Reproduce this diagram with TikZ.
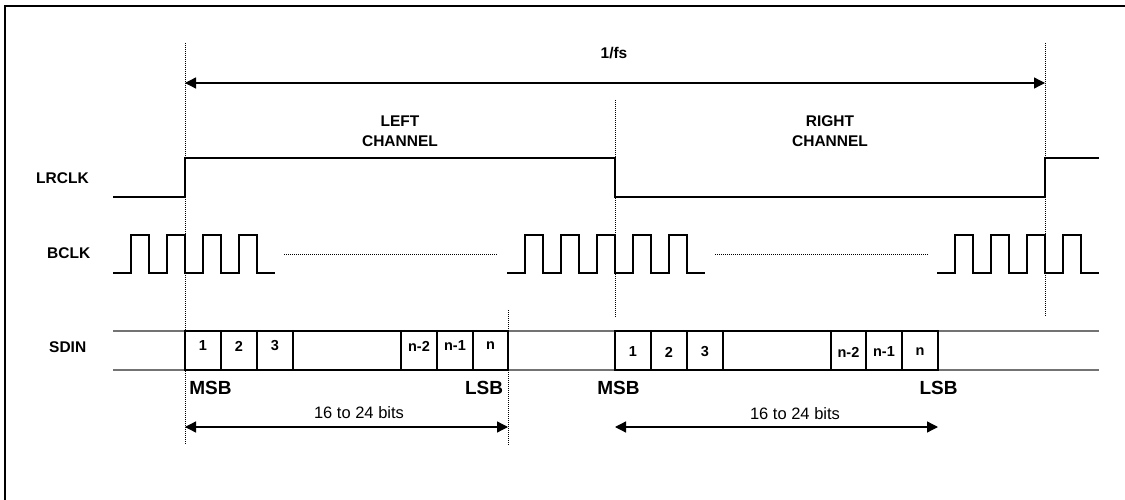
\documentclass[tikz,border=0pt]{standalone}
\usepackage{fontspec}
\setmainfont{Liberation Sans}
\usetikzlibrary{arrows.meta}
\begin{document}
\begin{tikzpicture}[x=1pt,y=-1pt,
  sig/.style={line width=1.7pt,black},
  guide/.style={line width=1pt,densely dotted,black},
  rail/.style={line width=1.3pt,black!55},
  bitbox/.style={draw=black,line width=1.3pt,fill=white},
  lbl/.style={font=\fontsize{15.5}{20}\selectfont\bfseries,inner sep=0pt},
  bitlbl/.style={font=\fontsize{14.5}{16}\selectfont\bfseries,inner sep=0pt},
  sblbl/.style={font=\fontsize{19}{22}\selectfont\bfseries,inner sep=0pt},
  dimlbl/.style={font=\fontsize{16.5}{19}\selectfont,inner sep=0pt},
  dimarrow/.style={line width=1.3pt,{Triangle[length=11pt,width=11pt]}-{Triangle[length=11pt,width=11pt]}},
]
\useasboundingbox (0,0) rectangle (1125,500);
% frame
\draw[line width=1.4pt] (1125,6) -- (5,6) -- (5,500);

% guide lines
\draw[guide] (185,43) -- (185,445);
\draw[guide] (615,100) -- (615,317);
\draw[guide] (1045,43) -- (1045,317);
\draw[guide] (508,310) -- (508,445);

% 1/fs
\coordinate (fsL) at (185,83);
\coordinate (fsR) at (1045,83);
\draw[dimarrow] (fsL) -- (fsR);
\node[lbl] (fs) at (614,53) {1/fs};

% channel labels
\node[lbl,align=center] (lch) at (400,131) {LEFT\\CHANNEL};
\node[lbl,align=center] (rch) at (830,131) {RIGHT\\CHANNEL};

% signal names
\node[lbl,anchor=west] (lrclk) at (36,178.5) {LRCLK};
\node[lbl,anchor=west] (bclk) at (47,253) {BCLK};
\node[lbl,anchor=west] (sdin) at (49,347) {SDIN};

% LRCLK
\draw[sig] (113,197) -- (185,197) -- (185,158) -- (615,158) -- (615,197) -- (1045,197) -- (1045,158) -- (1099,158);

% BCLK
\draw[sig] (113,273) \foreach \i in {1,...,4}{ -- ++(18,0) -- ++(0,-38) -- ++(18,0) -- ++(0,38)} -- ++(18,0);
\draw[sig] (507,273) \foreach \i in {1,...,5}{ -- ++(18,0) -- ++(0,-38) -- ++(18,0) -- ++(0,38)} -- ++(18,0);
\draw[sig] (937,273) \foreach \i in {1,...,4}{ -- ++(18,0) -- ++(0,-38) -- ++(18,0) -- ++(0,38)} -- ++(18,0);
\draw[guide] (284,254) -- (498,254);
\draw[guide] (715,254) -- (928,254);

% SDIN rails
\draw[rail] (113,331) -- (1099,331);
\draw[rail] (113,370) -- (1099,370);

% left word
\foreach \a/\b/\t [count=\k] in {185/221/1,221/257/2,257/293/3,293/401/,401/437/n-2,437/473/n-1,473/508/n}{
  \draw[bitbox] (\a,331) rectangle (\b,370);
  \node[bitlbl] (lb\k) at ({(\a+\b)/2},346) {\t};
}
% right word
\foreach \a/\b/\t [count=\k] in {615/651/1,651/687/2,687/723/3,723/831/,831/866/n-2,866/902/n-1,902/938/n}{
  \draw[bitbox] (\a,331) rectangle (\b,370);
  \node[bitlbl] (rb\k) at ({(\a+\b)/2},352) {\t};
}

% MSB / LSB
\node[sblbl] (msbL) at (210.5,388) {MSB};
\node[sblbl] (lsbL) at (484,388) {LSB};
\node[sblbl] (msbR) at (618.5,388) {MSB};
\node[sblbl] (lsbR) at (938.5,388) {LSB};

% word lengths
\coordinate (wL1) at (185,427);
\coordinate (wL2) at (508,427);
\coordinate (wR1) at (615,427);
\coordinate (wR2) at (938,427);
\draw[dimarrow] (wL1) -- (wL2);
\draw[dimarrow] (wR1) -- (wR2);
\node[dimlbl] (bitsL) at (359,413) {16 to 24 bits};
\node[dimlbl] (bitsR) at (795,414) {16 to 24 bits};
\end{tikzpicture}
\end{document}
